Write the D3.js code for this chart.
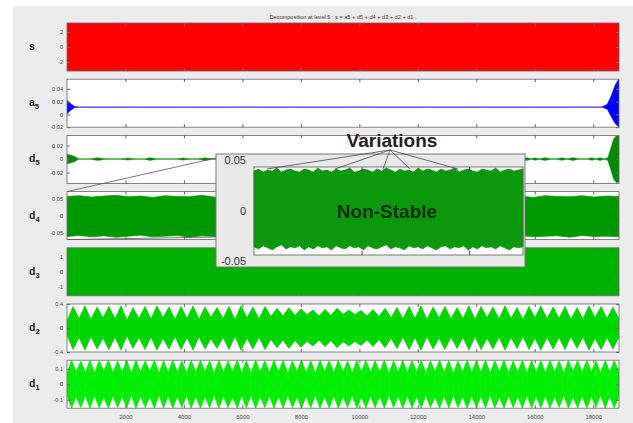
<!DOCTYPE html>
<html lang="en">
<head>
<meta charset="UTF-8" />
<title>wavelet decomposition</title>
<script src="https://cdn.jsdelivr.net/npm/d3@7"></script>
<style>
  body { margin: 0; background: #fff; }
  text { font-family: "Liberation Sans", Arial, sans-serif; }
</style>
</head>
<body>
<script>
const WIDTH = 633, HEIGHT = 423;
const N = 18880;   // samples in the signal

const title = "Decomposition at level 5 : s = a5 + d5 + d4 + d3 + d2 + d1 .";
const xTicks = [2000, 4000, 6000, 8000, 10000, 12000, 14000, 16000, 18000];

// panel names (label + subscript) top to bottom
const panelNames = [["s", ""], ["a", "5"], ["d", "5"], ["d", "4"], ["d", "3"], ["d", "2"], ["d", "1"]];
const yTicks = [[2, 0, -2], [0.04, 0.02, 0, -0.02], [0.02, 0, -0.02], [0.05, 0, -0.05], [1, 0, -1], [0.4, 0, -0.4], [0.1, 0, -0.1]];

// signal s : fills the whole box
const sPos = [1, N];
const sHi = [3.2, 3.2];
const sLo = [-3.2, -3.2];

// approximation a5 : flat line with edge effects
const a5Pos = [1, 120, 260, 420, 2000, 4000, 6000, 8000, 10000, 12000, 14000, 16000, 17500, 18300, 18480, 18620, 18740, 18880];
const a5Hi = [0.022, 0.017, 0.0125, 0.0115, 0.0117, 0.0115, 0.0117, 0.0115, 0.0117, 0.0115, 0.0117, 0.0115, 0.0117, 0.0117, 0.016, 0.03, 0.045, 0.056];
const a5Lo = [0.001, 0.006, 0.0105, 0.0113, 0.0112, 0.0113, 0.0112, 0.0113, 0.0112, 0.0113, 0.0112, 0.0113, 0.0112, 0.0112, 0.008, -0.004, -0.014, -0.02];

// detail d5 : quiet line with small bursts, big burst at the end
const d5Pos = [1, 100, 250, 400, 800, 1060, 1300, 1850, 2086, 2300, 2650, 2840, 3050, 3750, 3967, 4200, 4500, 4720, 4950,
  7000, 7300, 7600, 10000, 10300, 10600, 13000, 13300, 13600,
  15550, 15732, 15880, 16005, 16150, 16347, 16550, 16750, 16929, 17100, 17305, 17500, 17800, 17955, 18090, 18229, 18380, 18500, 18600, 18700, 18800, 18880];
const d5Amp = [0.007, 0.006, 0.004, 0.0003, 0.0003, 0.002, 0.0003, 0.0003, 0.0015, 0.0003, 0.0003, 0.002, 0.0003, 0.0003, 0.0015, 0.0003, 0.0003, 0.002, 0.0003,
  0.0003, 0.0015, 0.0003, 0.0003, 0.0015, 0.0003, 0.0003, 0.0015, 0.0003,
  0.0003, 0.002, 0.0003, 0.0018, 0.0003, 0.002, 0.0003, 0.0003, 0.0018, 0.0003, 0.002, 0.0003, 0.0003, 0.0018, 0.0003, 0.002, 0.0003, 0.002, 0.016, 0.03, 0.035, 0.034];

// detail d4 : dense band, jagged edges
const d4Hi = [0.056, 0.058, 0.054, 0.057, 0.059, 0.055, 0.057, 0.053, 0.058, 0.056, 0.055, 0.059, 0.054, 0.057, 0.056, 0.058, 0.053, 0.057, 0.055, 0.059,
  0.056, 0.054, 0.058, 0.055, 0.057, 0.053, 0.058, 0.056, 0.059, 0.054, 0.057, 0.055, 0.058, 0.056, 0.054, 0.059, 0.055, 0.057, 0.053, 0.058, 0.056, 0.055, 0.058, 0.054, 0.057, 0.056];
const d4Lo = [-0.061, -0.058, -0.062, -0.059, -0.063, -0.06, -0.057, -0.062, -0.06, -0.058, -0.063, -0.059, -0.061, -0.057, -0.062, -0.06, -0.059, -0.063, -0.058, -0.061,
  -0.06, -0.062, -0.058, -0.061, -0.059, -0.063, -0.06, -0.057, -0.062, -0.059, -0.061, -0.058, -0.062, -0.06, -0.063, -0.059, -0.061, -0.058, -0.062, -0.06, -0.059, -0.063, -0.058, -0.061, -0.06, -0.062];

// detail d3 : fills the whole box
const d3Pos = [1, N];
const d3Hi = [1.63, 1.63];
const d3Lo = [-1.63, -1.63];

// detail d2 : beating lobes (peak of each lobe, dip between lobes)
const d2Peaks = [0.36, 0.37, 0.35, 0.36, 0.37, 0.34, 0.36, 0.37, 0.35, 0.36, 0.37, 0.35, 0.34, 0.36, 0.37, 0.35, 0.36, 0.33, 0.34, 0.32, 0.30, 0.31, 0.33,
  0.30, 0.29, 0.31, 0.33, 0.34, 0.36, 0.37, 0.35, 0.36, 0.34, 0.37, 0.36, 0.35, 0.37, 0.34, 0.36, 0.37, 0.35, 0.36, 0.34, 0.37, 0.36, 0.35];
const d2Dips = [0.12, 0.16, 0.14, 0.17, 0.15, 0.13, 0.16, 0.15, 0.17, 0.14, 0.16, 0.15, 0.18, 0.16, 0.14, 0.17, 0.15, 0.19, 0.20, 0.21, 0.22, 0.20, 0.21, 0.23,
  0.22, 0.20, 0.19, 0.17, 0.15, 0.16, 0.14, 0.17, 0.15, 0.16, 0.14, 0.17, 0.15, 0.16, 0.14, 0.17, 0.15, 0.16, 0.14, 0.15, 0.17, 0.16, 0.15];

// detail d1 : faster lobes
const d1Peaks = [0.155, 0.15, 0.155, 0.152, 0.155, 0.15, 0.154, 0.155, 0.151, 0.155, 0.153, 0.155, 0.15, 0.155, 0.154, 0.152, 0.155, 0.15, 0.155, 0.153,
  0.155, 0.151, 0.155, 0.154, 0.15, 0.155, 0.152, 0.155, 0.153, 0.155, 0.15, 0.155, 0.154, 0.152, 0.155, 0.15, 0.155, 0.153, 0.155, 0.151,
  0.155, 0.154, 0.15, 0.155, 0.152, 0.155, 0.153, 0.155, 0.15, 0.155, 0.154, 0.152, 0.155, 0.15, 0.155, 0.153, 0.155, 0.151, 0.155, 0.154];
const d1Dips = [0.07, 0.08, 0.075, 0.07, 0.085, 0.075, 0.08, 0.07, 0.078, 0.082, 0.07, 0.075, 0.08, 0.072, 0.078, 0.08, 0.07, 0.076, 0.082, 0.074,
  0.07, 0.08, 0.075, 0.078, 0.07, 0.082, 0.076, 0.07, 0.08, 0.074, 0.078, 0.07, 0.082, 0.075, 0.08, 0.07, 0.078, 0.074, 0.08, 0.07,
  0.082, 0.076, 0.07, 0.08, 0.075, 0.078, 0.07, 0.082, 0.074, 0.08, 0.07, 0.078, 0.076, 0.08, 0.07, 0.082, 0.075, 0.078, 0.07, 0.08, 0.075];

// zoomed inset of d4
const insetTicks = [0.05, 0, -0.05];
const insetXTicks = [2000, 4000];
const insetHi = [0.039, 0.041, 0.038, 0.040, 0.039, 0.042, 0.038, 0.040, 0.041, 0.039, 0.038, 0.041, 0.040, 0.038, 0.042, 0.039, 0.040, 0.038, 0.041, 0.039,
  0.040, 0.042, 0.038, 0.039, 0.041, 0.040, 0.038, 0.041, 0.039, 0.042, 0.040, 0.038, 0.041, 0.039, 0.040, 0.038, 0.042, 0.039, 0.041, 0.040,
  0.038, 0.041, 0.039, 0.040, 0.042, 0.038, 0.040, 0.041, 0.039, 0.038, 0.041, 0.040, 0.039, 0.042, 0.038, 0.040, 0.041, 0.039, 0.040, 0.041];
const insetLo = [-0.036, -0.038, -0.035, -0.037, -0.039, -0.036, -0.034, -0.038, -0.036, -0.037, -0.035, -0.039, -0.036, -0.038, -0.035, -0.037, -0.036, -0.039, -0.035, -0.037,
  -0.038, -0.035, -0.037, -0.036, -0.039, -0.035, -0.037, -0.038, -0.036, -0.034, -0.038, -0.036, -0.037, -0.039, -0.035, -0.037, -0.036, -0.038, -0.035, -0.037,
  -0.039, -0.036, -0.035, -0.038, -0.036, -0.037, -0.035, -0.039, -0.036, -0.038, -0.035, -0.037, -0.036, -0.038, -0.035, -0.037, -0.039, -0.036, -0.037, -0.036];

// ---------- build envelopes ----------
function zipEnv(pos, hi, lo) {
  return pos.map((p, i) => ({x: p, hi: hi[i], lo: lo[i]}));
}
function lobeEnv(peaks, dips) {
  const k = peaks.length, out = [];
  for (let i = 0; i < k; i++) {
    out.push({x: 1 + (i / k) * (N - 1), hi: dips[i], lo: -dips[i]});
    out.push({x: 1 + ((i + 0.5) / k) * (N - 1), hi: peaks[i], lo: -peaks[i]});
  }
  out.push({x: N, hi: dips[k], lo: -dips[k]});
  return out;
}
function evenEnv(hi, lo, x0, x1) {
  return hi.map((h, i) => ({x: x0 + (i / (hi.length - 1)) * (x1 - x0), hi: h, lo: lo[i]}));
}

const panels = [
  {dom: [-3.2, 3.2], color: "#ff0000", sw: 0.7, env: zipEnv(sPos, sHi, sLo)},
  {dom: [-0.02, 0.055], color: "#0000ff", sw: 0.5, env: zipEnv(a5Pos, a5Hi, a5Lo)},
  {dom: [-0.036, 0.035], color: "#008a00", sw: 0.5, env: zipEnv(d5Pos, d5Amp, d5Amp.map(v => -v))},
  {dom: [-0.07, 0.07], color: "#009a00", sw: 0.7, env: evenEnv(d4Hi, d4Lo, 1, N)},
  {dom: [-1.63, 1.63], color: "#00b200", sw: 0.7, env: zipEnv(d3Pos, d3Hi, d3Lo)},
  {dom: [-0.4, 0.4], color: "#00d600", sw: 0.7, env: lobeEnv(d2Peaks, d2Dips)},
  {dom: [-0.155, 0.155], color: "#00ee00", sw: 0.7, env: lobeEnv(d1Peaks, d1Dips)}
];

// ---------- layout ----------
const LEFT = 67, RIGHT = 619;
const TOP0 = 23, STEP = 56.2, PH = 48;

const svg = d3.select("body").append("svg")
    .attr("width", WIDTH)
    .attr("height", HEIGHT);

svg.append("rect")  // figure background
    .attr("x", 13).attr("y", 6)
    .attr("width", WIDTH - 13).attr("height", HEIGHT - 6)
    .attr("fill", "#ececec");

svg.append("text")
    .attr("x", 343).attr("y", 19)
    .attr("text-anchor", "middle")
    .attr("font-size", 5.6)
    .attr("fill", "#333")
    .text(title);

const xScale = d3.scaleLinear().domain([1, N]).range([LEFT, RIGHT]);

svg.append("defs").selectAll("clipPath")
    .data(panels)
    .join("clipPath")
        .attr("id", (d, i) => "clip" + i)
    .append("rect")
        .attr("x", LEFT).attr("y", (d, i) => TOP0 + i * STEP)
        .attr("width", RIGHT - LEFT).attr("height", PH);

panels.forEach((p, i) => {
    const top = TOP0 + i * STEP;
    const y = d3.scaleLinear().domain(p.dom).range([top + PH, top]);
    const g = svg.append("g");

    g.append("rect")
        .attr("x", LEFT).attr("y", top)
        .attr("width", RIGHT - LEFT).attr("height", PH)
        .attr("fill", "#fff");

    const area = d3.area()
        .x(d => xScale(d.x))
        .y0(d => y(d.lo))
        .y1(d => y(d.hi));
    g.append("path")
        .datum(p.env)
        .attr("clip-path", `url(#clip${i})`)
        .attr("fill", p.color)
        .attr("stroke", p.color)
        .attr("stroke-width", p.sw)
        .attr("d", area);

    // y axis, ticks inward
    g.append("g")
        .attr("transform", `translate(${LEFT},0)`)
        .call(d3.axisLeft(y).tickValues(yTicks[i]).tickSize(-3).tickPadding(4).tickFormat(d => String(d)))
        .call(a => a.select(".domain").remove())
        .call(a => a.selectAll(".tick line").attr("stroke", "#666"))
        .call(a => a.selectAll("text").attr("font-size", 5.6).attr("fill", "#444").attr("font-family", null));
    g.append("g")
        .attr("transform", `translate(${RIGHT},0)`)
        .call(d3.axisRight(y).tickValues(yTicks[i]).tickSize(-3).tickFormat(""))
        .call(a => a.select(".domain").remove())
        .call(a => a.selectAll(".tick line").attr("stroke", "#666"));

    // x ticks, top and bottom
    g.append("g")
        .attr("transform", `translate(0,${top + PH})`)
        .call(d3.axisBottom(xScale).tickValues(xTicks).tickSize(-3).tickPadding(7)
            .tickFormat(i === panels.length - 1 ? d3.format("d") : ""))
        .call(a => a.select(".domain").remove())
        .call(a => a.selectAll(".tick line").attr("stroke", "#666"))
        .call(a => a.selectAll("text").attr("font-size", 6).attr("fill", "#444").attr("font-family", null));
    g.append("g")
        .attr("transform", `translate(0,${top})`)
        .call(d3.axisTop(xScale).tickValues(xTicks).tickSize(-3).tickFormat(""))
        .call(a => a.select(".domain").remove())
        .call(a => a.selectAll(".tick line").attr("stroke", "#666"));

    g.append("rect")
        .attr("x", LEFT).attr("y", top)
        .attr("width", RIGHT - LEFT).attr("height", PH)
        .attr("fill", "none")
        .attr("stroke", "#666")
        .attr("stroke-width", 0.8);

    const lab = g.append("text")
        .attr("x", 29).attr("y", top + PH / 2 + 3)
        .attr("font-size", 10.5)
        .attr("font-weight", "bold")
        .attr("fill", "#222");
    lab.append("tspan").text(panelNames[i][0]);
    lab.append("tspan").attr("font-size", 7.5).attr("dy", 3).text(panelNames[i][1]);
});

// ---------- inset ----------
const d4Top = TOP0 + 3 * STEP;
const box = {x0: 216, y0: 154, x1: 525, y1: 267};
const inner = {x0: 254, y0: 167, x1: 523, y1: 255};
const ix = d3.scaleLinear().domain([0, 5000]).range([inner.x0, inner.x1]);
const iy = d3.scaleLinear().domain([-0.05, 0.05]).range([261, 160]);

// connector lines from d4 panel to inset
svg.append("line")
    .attr("x1", LEFT).attr("y1", d4Top)
    .attr("x2", box.x0).attr("y2", box.y0 + 4)
    .attr("stroke", "#555").attr("stroke-width", 0.8);
svg.append("line")
    .attr("x1", LEFT).attr("y1", d4Top + PH)
    .attr("x2", box.x0).attr("y2", box.y1 - 30)
    .attr("stroke", "#555").attr("stroke-width", 0.8);

const ins = svg.append("g");
ins.append("rect")
    .attr("x", box.x0).attr("y", box.y0)
    .attr("width", box.x1 - box.x0).attr("height", box.y1 - box.y0)
    .attr("fill", "#e9e9e9").attr("stroke", "#777").attr("stroke-width", 1);
ins.append("rect")
    .attr("x", inner.x0).attr("y", inner.y0)
    .attr("width", inner.x1 - inner.x0).attr("height", inner.y1 - inner.y0)
    .attr("fill", "#fff");
ins.append("path")
    .datum(evenEnv(insetHi, insetLo, 0, 5000))
    .attr("fill", "#0c980c")
    .attr("stroke", "#0c980c")
    .attr("stroke-width", 0.7)
    .attr("d", d3.area().x(d => ix(d.x)).y0(d => iy(d.lo)).y1(d => iy(d.hi)));
ins.append("g")
    .attr("transform", `translate(0,${inner.y1})`)
    .call(d3.axisBottom(ix).tickValues(insetXTicks).tickSize(-4).tickFormat(""))
    .call(a => a.select(".domain").remove())
    .call(a => a.selectAll(".tick line").attr("stroke", "#444"));
ins.append("g")
    .attr("transform", `translate(0,${inner.y0})`)
    .call(d3.axisTop(ix).tickValues(insetXTicks).tickSize(-4).tickFormat(""))
    .call(a => a.select(".domain").remove())
    .call(a => a.selectAll(".tick line").attr("stroke", "#444"));
ins.append("rect")
    .attr("x", inner.x0).attr("y", inner.y0)
    .attr("width", inner.x1 - inner.x0).attr("height", inner.y1 - inner.y0)
    .attr("fill", "none").attr("stroke", "#555").attr("stroke-width", 0.8);
ins.selectAll(".ilab")
    .data(insetTicks)
    .join("text")
        .attr("class", "ilab")
        .attr("x", 246)
        .attr("y", d => iy(d) + 4)
        .attr("text-anchor", "end")
        .attr("font-size", 11)
        .attr("fill", "#333")
        .text(d => String(d));

// annotations
const fanFrom = [390, 150];
const fanTo = [267, 335, 383, 410, 458];
svg.selectAll(".fan")
    .data(fanTo)
    .join("line")
        .attr("class", "fan")
        .attr("x1", fanFrom[0]).attr("y1", fanFrom[1])
        .attr("x2", d => d).attr("y2", 169)
        .attr("stroke", "#444").attr("stroke-width", 0.8);
svg.append("text")
    .attr("x", 392).attr("y", 147)
    .attr("text-anchor", "middle")
    .attr("font-size", 19).attr("font-weight", "bold")
    .attr("fill", "#222")
    .text("Variations");
svg.append("text")
    .attr("x", 387).attr("y", 218)
    .attr("text-anchor", "middle")
    .attr("font-size", 19).attr("font-weight", "bold")
    .attr("fill", "#0f2f0f")
    .text("Non-Stable");
</script>
</body>
</html>
